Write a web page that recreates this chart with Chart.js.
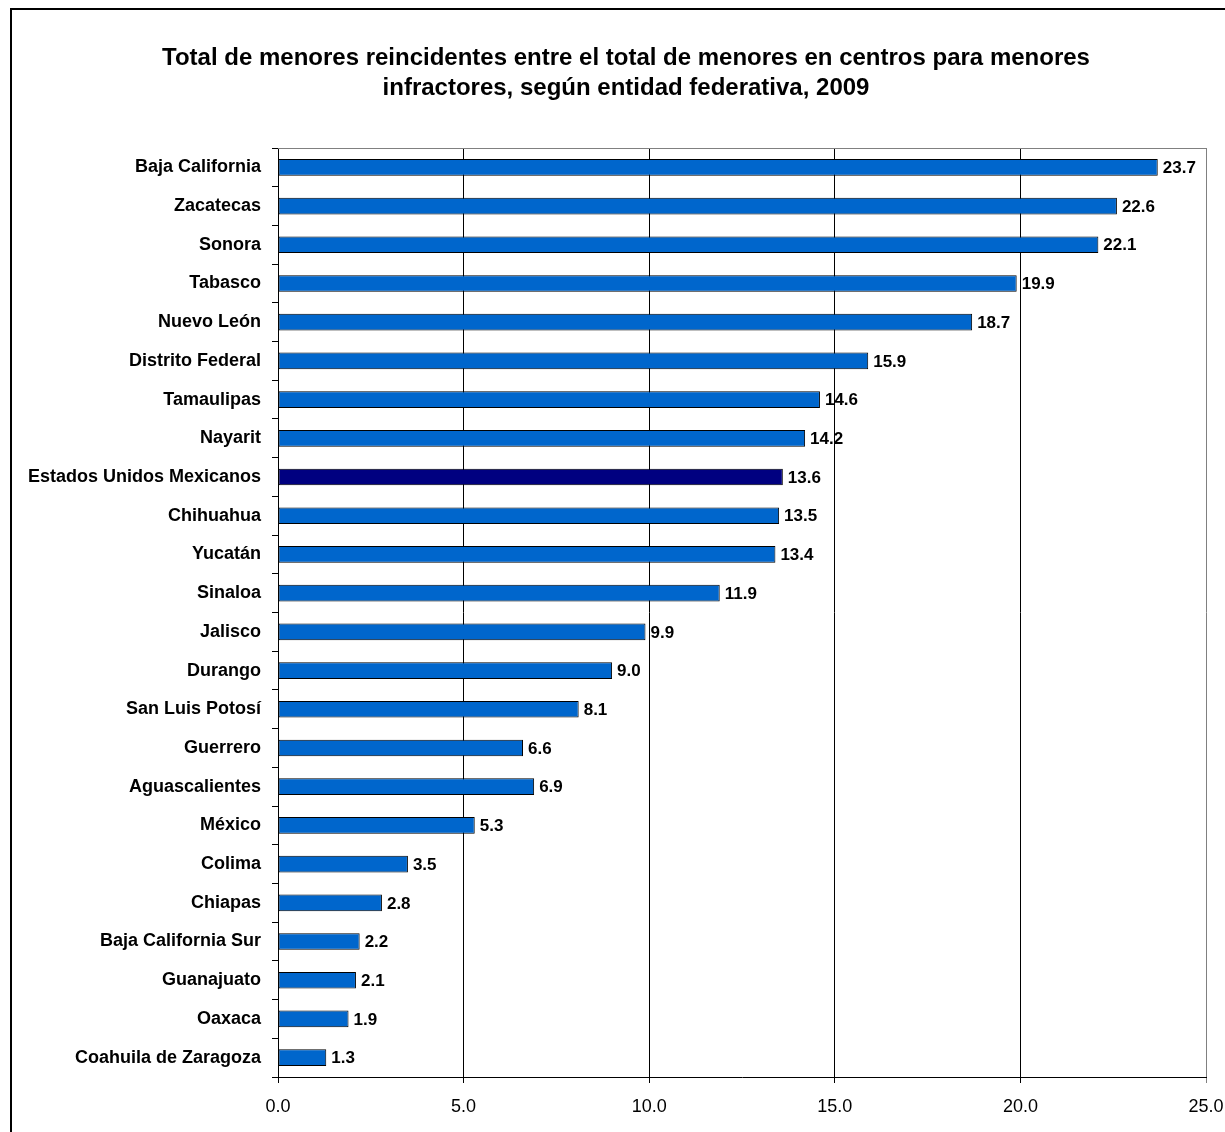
<!DOCTYPE html>
<html>
<head>
<meta charset="utf-8">
<style>
  html, body { margin: 0; padding: 0; background: #fff; }
  canvas { display: block; }
</style>
<script src="https://cdn.jsdelivr.net/npm/chart.js@4/dist/chart.umd.min.js"></script>
</head>
<body>
<canvas id="chart" width="1225" height="1132"></canvas>
<script>
// Datos
const titleLines = [
    'Total de menores reincidentes entre el total de menores en centros para menores',
    'infractores, según entidad federativa, 2009'
];
const entidades = [
    'Baja California', 'Zacatecas', 'Sonora', 'Tabasco', 'Nuevo León',
    'Distrito Federal', 'Tamaulipas', 'Nayarit', 'Estados Unidos Mexicanos',
    'Chihuahua', 'Yucatán', 'Sinaloa', 'Jalisco', 'Durango', 'San Luis Potosí',
    'Guerrero', 'Aguascalientes', 'México', 'Colima', 'Chiapas',
    'Baja California Sur', 'Guanajuato', 'Oaxaca', 'Coahuila de Zaragoza'
];
const valores = [
    23.7, 22.6, 22.1, 19.9, 18.7, 15.9, 14.6, 14.2, 13.6, 13.5, 13.4, 11.9,
    9.9, 9.0, 8.1, 6.6, 6.9, 5.3, 3.5, 2.8, 2.2, 2.1, 1.9, 1.3
];
const xTicks = [0, 5, 10, 15, 20, 25];
const nacional = 'Estados Unidos Mexicanos';

const FONT = "'Liberation Sans', Arial, sans-serif";
const BLUE = '#0066CC';
const NAVY = '#000080';

// Marco exterior, título y textos
const framePlugin = {
    id: 'frame',
    beforeDraw: function (chart) {
        const ctx = chart.ctx;
        ctx.save();
        ctx.fillStyle = '#fff';
        ctx.fillRect(0, 0, chart.width, chart.height);
        ctx.strokeStyle = '#000';
        ctx.lineWidth = 2;
        ctx.strokeRect(11, 9, chart.width + 20, chart.height + 20);
        ctx.fillStyle = '#000';
        ctx.font = 'bold 24px ' + FONT;
        ctx.textAlign = 'center';
        ctx.textBaseline = 'middle';
        titleLines.forEach(function (line, i) {
            ctx.fillText(line, 626, 58 + i * 30);
        });
        ctx.restore();
    },
    afterDatasetsDraw: function (chart) {
        const ctx = chart.ctx;
        const area = chart.chartArea;
        const xScale = chart.scales.x;
        ctx.save();
        // borde superior gris del área de trazado
        ctx.strokeStyle = '#808080';
        ctx.lineWidth = 1;
        ctx.beginPath();
        ctx.moveTo(area.left, area.top + 0.5);
        ctx.lineTo(area.right, area.top + 0.5);
        ctx.stroke();

        // etiquetas de datos
        ctx.fillStyle = '#000';
        ctx.font = 'bold 17px ' + FONT;
        ctx.textAlign = 'left';
        ctx.textBaseline = 'middle';
        chart.getDatasetMeta(0).data.forEach(function (bar, i) {
            ctx.fillText(valores[i].toFixed(1), bar.x + 5, bar.y + 1);
        });

        // etiquetas del eje x
        ctx.font = '18px ' + FONT;
        ctx.textAlign = 'center';
        xTicks.forEach(function (v) {
            ctx.fillText(v.toFixed(1), xScale.getPixelForValue(v), xScale.top + 30);
        });
        ctx.restore();
    }
};

new Chart(document.getElementById('chart'), {
    type: 'bar',
    data: {
        labels: entidades,
        datasets: [{
            data: valores,
            backgroundColor: entidades.map(function (e) { return e === nacional ? NAVY : BLUE; }),
            borderColor: '#000',
            borderWidth: 1,
            borderSkipped: false,
            categoryPercentage: 1,
            barPercentage: 0.43
        }]
    },
    options: {
        indexAxis: 'y',
        responsive: false,
        animation: false,
        layout: { padding: { top: 148, right: 19, left: 0, bottom: 0 } },
        plugins: {
            legend: { display: false },
            title: { display: false },
            tooltip: { enabled: false }
        },
        scales: {
            x: {
                min: 0,
                max: 25,
                afterBuildTicks: function (axis) {
                    axis.ticks = xTicks.map(function (v) { return { value: v }; });
                },
                afterFit: function (axis) { axis.height = 55; },
                border: { color: '#000', width: 1 },
                grid: {
                    color: function (c) { return c.tick && c.tick.value === 25 ? '#808080' : '#000'; },
                    lineWidth: 1,
                    tickLength: 6
                },
                ticks: { display: false }
            },
            y: {
                afterFit: function (axis) { axis.width = 278; },
                border: { color: '#000', width: 1 },
                grid: {
                    offset: true,
                    drawOnChartArea: false,
                    color: '#000',
                    tickLength: 6
                },
                ticks: {
                    color: '#000',
                    padding: 11,
                    autoSkip: false,
                    font: { family: FONT, size: 18, weight: 'bold' }
                }
            }
        }
    },
    plugins: [framePlugin]
});
</script>
</body>
</html>
